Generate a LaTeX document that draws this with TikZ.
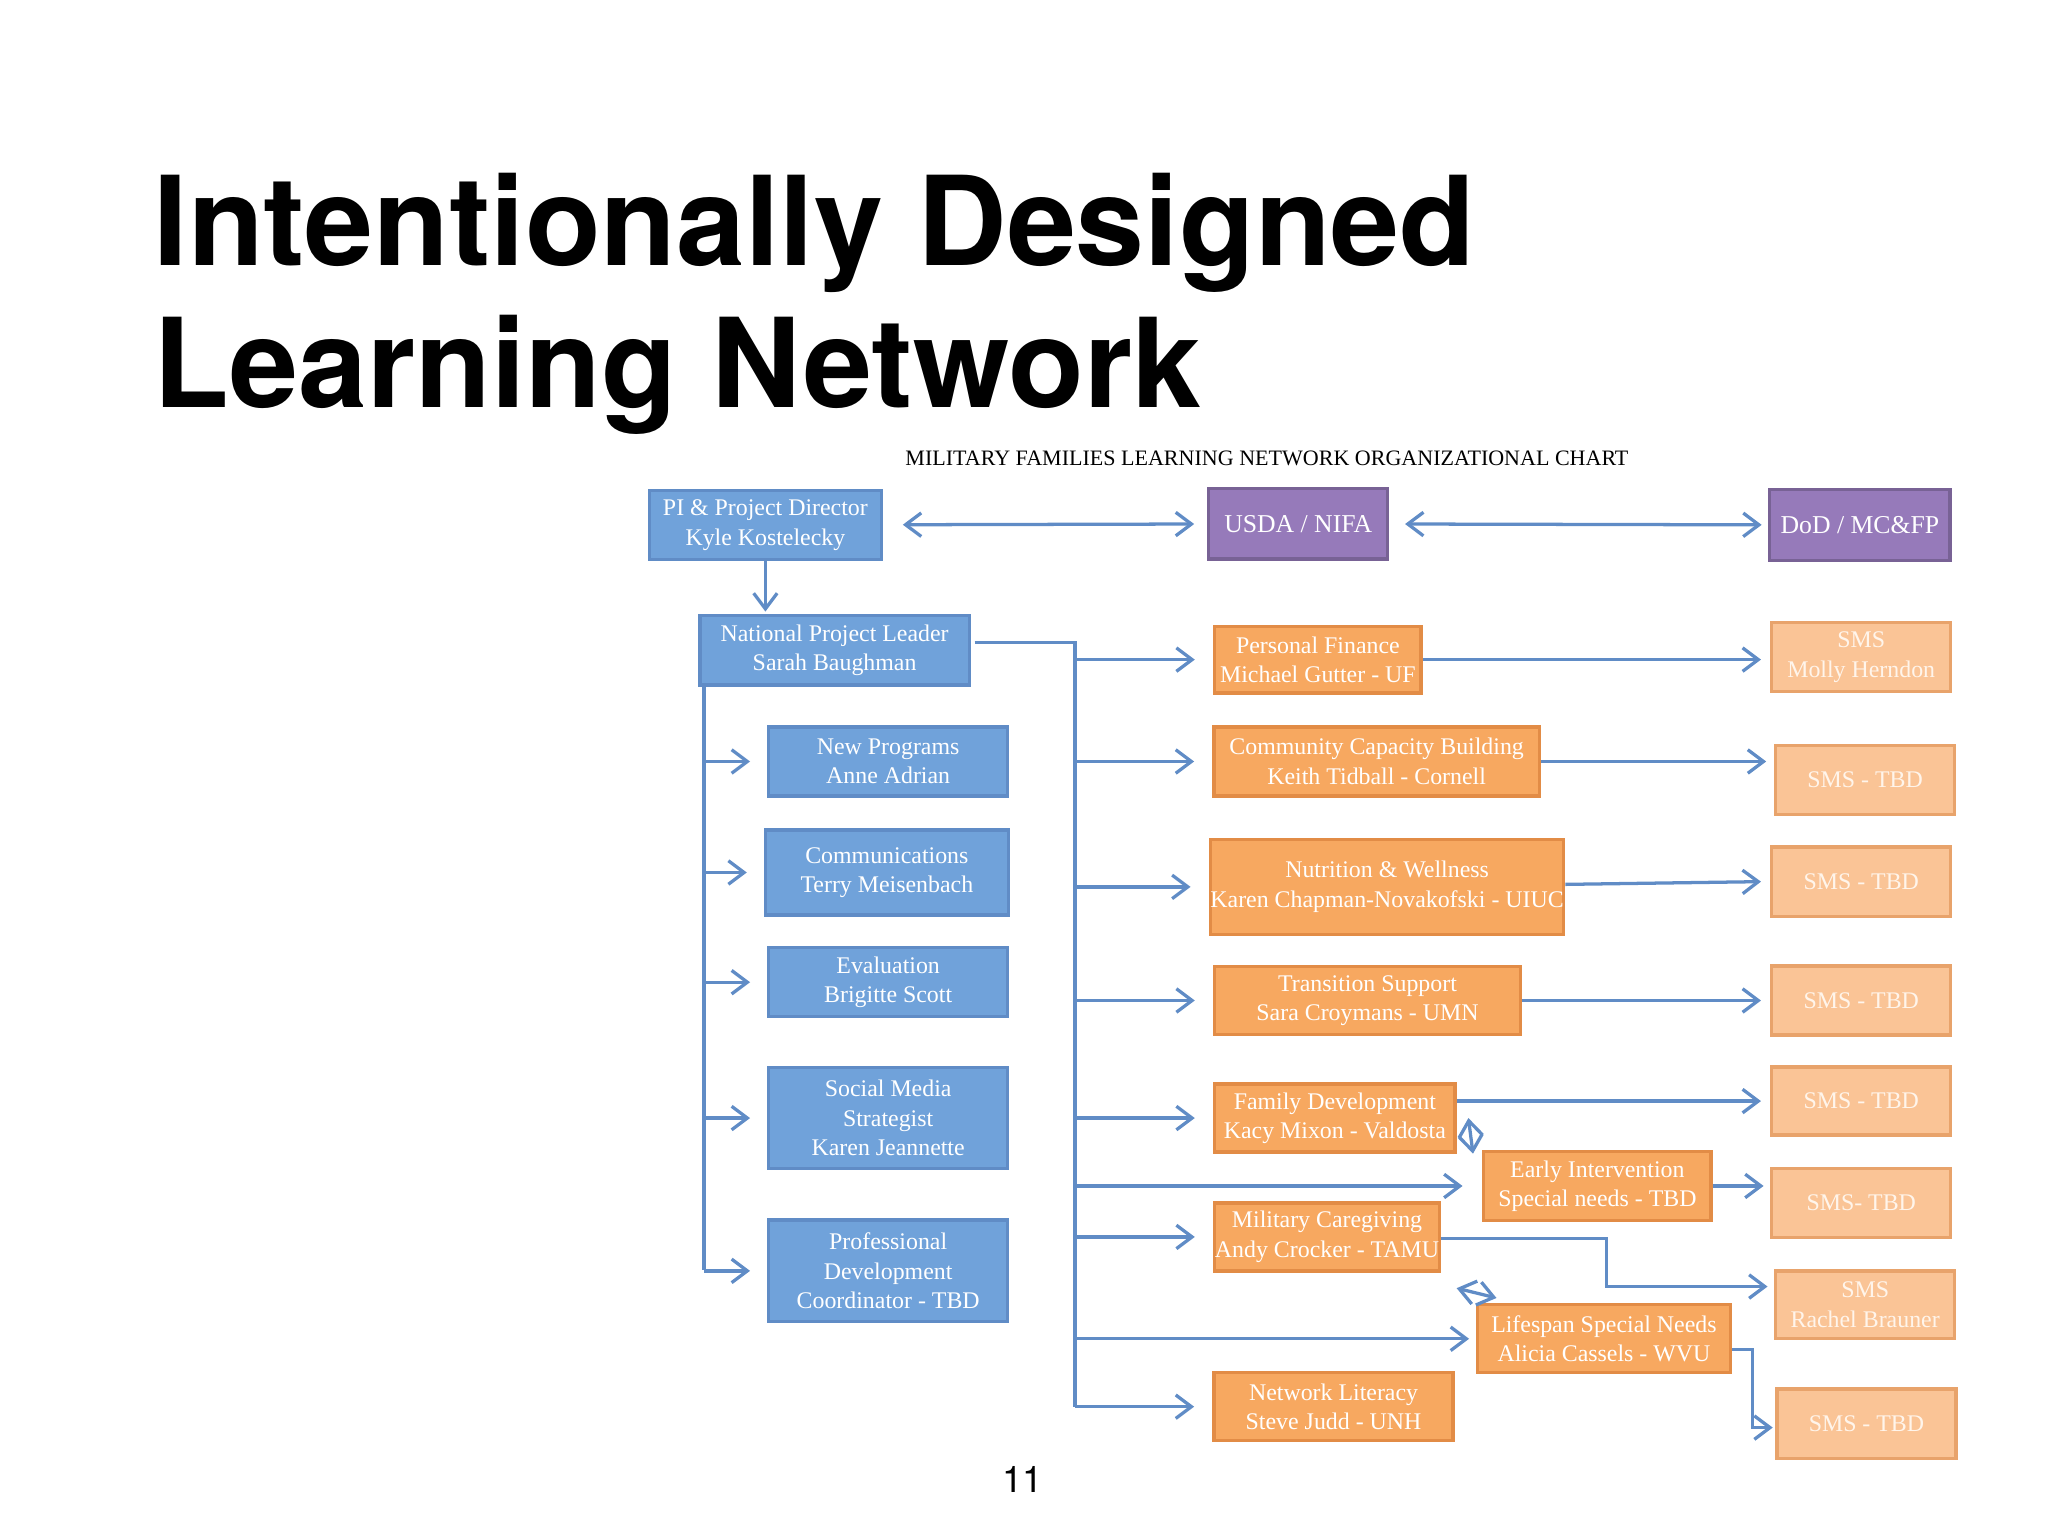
\documentclass[tikz,border=0pt]{standalone}
\usepackage{fontspec}
\setmainfont{Liberation Serif}
\newfontfamily\titlefont{TeX Gyre Heros}
\usetikzlibrary{arrows.meta, positioning}
\definecolor{bluebox}{RGB}{112,162,218}
\definecolor{blueline}{RGB}{96,140,198}
\definecolor{purplebox}{RGB}{150,122,186}
\definecolor{orangebox}{RGB}{247,168,96}
\definecolor{orangeline}{RGB}{226,140,70}
\definecolor{smsbox}{RGB}{250,196,150}
\begin{document}
\begin{tikzpicture}[x=0.1mm, y=-0.1mm,
    box/.style={draw, line width=0.25mm, align=center, inner sep=0pt, font=\fontsize{5.2}{6.4}\selectfont, text=white},
    mgmt/.style={box, fill=bluebox, draw=blueline},
    fund/.style={box, fill=purplebox, draw=purplebox!80!black, font=\fontsize{5.6}{6.6}\selectfont},
    area/.style={box, fill=orangebox, draw=orangeline},
    sms/.style={box, fill=smsbox, draw=orangeline!80, text=white!92!orange},
    link/.style={blueline, line width=0.25mm},
    arrow/.style={link, -{Straight Barb[length=1.2mm, width=1.8mm]}},
    both/.style={link, {Straight Barb[length=1.2mm, width=1.8mm]}-{Straight Barb[length=1.2mm, width=1.8mm]}}
]
    \useasboundingbox[fill=white] (0,0) rectangle (1568,1176);

    % Title
    \node[anchor=base west, font=\titlefont\bfseries\fontsize{27}{30}\selectfont, inner sep=0pt] (title1) at (117,203) {Intentionally Designed};
    \node[anchor=base west, font=\titlefont\bfseries\fontsize{27}{30}\selectfont, inner sep=0pt] (title2) at (117,312) {Learning Network};
    \node[font=\fontsize{4.8}{6}\selectfont] (chart) at (970,351) {MILITARY FAMILIES LEARNING NETWORK ORGANIZATIONAL CHART};
    \node[font=\titlefont\fontsize{8}{9}\selectfont] (page) at (783,1133) {11};

    % Top row
    \node[mgmt, minimum width=17.8mm, minimum height=5.3mm] (pi) at (586,402) {PI \& Project Director\\Kyle Kostelecky};
    \node[fund, minimum width=13.7mm, minimum height=5.4mm] (usda) at (994,401) {USDA / NIFA};
    \node[fund, minimum width=13.8mm, minimum height=5.4mm] (dod) at (1424,402) {DoD / MC\&FP};

    % Project staff
    \node[mgmt, minimum width=20.6mm, minimum height=5.3mm] (npl) at (639,498) {National Project Leader\\Sarah Baughman};
    \node[mgmt, minimum width=18.3mm, minimum height=5.3mm] (newprog) at (680,583) {New Programs\\Anne Adrian};
    \node[mgmt, minimum width=18.6mm, minimum height=6.5mm] (comm) at (679,668) {Communications\\Terry Meisenbach};
    \node[mgmt, minimum width=18.3mm, minimum height=5.3mm] (eval) at (680,752) {Evaluation\\Brigitte Scott};
    \node[mgmt, minimum width=18.3mm, minimum height=7.7mm] (social) at (680,856) {Social Media\\Strategist\\Karen Jeannette};
    \node[mgmt, minimum width=18.3mm, minimum height=7.8mm] (profdev) at (680,973) {Professional\\Development\\Coordinator - TBD};

    % Concentration areas
    \node[area, minimum width=15.8mm, minimum height=5.1mm] (finance) at (1009,505) {Personal Finance\\Michael Gutter - UF};
    \node[area, minimum width=24.9mm, minimum height=5.3mm] (capacity) at (1054,583) {Community Capacity Building\\Keith Tidball - Cornell};
    \node[area, minimum width=26mm, minimum height=7.3mm] (nutrition) at (1062,679) {Nutrition \& Wellness\\Karen Chapman-Novakofski - UIUC};
    \node[area, minimum width=23.4mm, minimum height=5.2mm] (transition) at (1047,766) {Transition Support\\Sara Croymans - UMN};
    \node[area, minimum width=18.4mm, minimum height=5.2mm] (family) at (1022,856) {Family Development\\Kacy Mixon - Valdosta};
    \node[area, minimum width=17.4mm, minimum height=5.3mm] (early) at (1223,908) {Early Intervention\\Special needs - TBD};
    \node[area, minimum width=17.2mm, minimum height=5.2mm] (caregiving) at (1016,947) {Military Caregiving\\Andy Crocker - TAMU};
    \node[area, minimum width=19.4mm, minimum height=5.2mm] (lifespan) at (1228,1025) {Lifespan Special Needs\\Alicia Cassels - WVU};
    \node[area, minimum width=18.3mm, minimum height=5.2mm] (literacy) at (1021,1077) {Network Literacy\\Steve Judd - UNH};

    % Subject matter specialists
    \node[sms, minimum width=13.7mm, minimum height=5.3mm] (sms1) at (1425,503) {SMS\\Molly Herndon};
    \node[sms, minimum width=13.7mm, minimum height=5.3mm] (sms2) at (1428,597) {SMS - TBD};
    \node[sms, minimum width=13.7mm, minimum height=5.3mm] (sms3) at (1425,675) {SMS - TBD};
    \node[sms, minimum width=13.7mm, minimum height=5.3mm] (sms4) at (1425,766) {SMS - TBD};
    \node[sms, minimum width=13.7mm, minimum height=5.2mm] (sms5) at (1425,843) {SMS - TBD};
    \node[sms, minimum width=13.7mm, minimum height=5.3mm] (sms6) at (1425,921) {SMS- TBD};
    \node[sms, minimum width=13.7mm, minimum height=5.2mm] (sms7) at (1428,999) {SMS\\Rachel Brauner};
    \node[sms, minimum width=13.7mm, minimum height=5.3mm] (sms8) at (1429,1090) {SMS - TBD};

    % Top links
    \draw[both, shorten <=1.5mm, shorten >=1mm] (pi) -- (usda);
    \draw[both, shorten <=1.2mm, shorten >=0.5mm] (usda) -- (dod);
    \draw[arrow, shorten >=0.2mm] (pi) -- (npl.north-|pi);

    % Left trunk
    \coordinate (ltop) at (539,525);
    \coordinate (lbot) at (539,972);
    \draw[link] (ltop) -- (lbot);
    \foreach \n in {newprog, comm, eval, social, profdev}
        \draw[arrow] (ltop|-\n) -- ([xshift=-1.3mm]\n.west);

    % Right trunk
    \coordinate (rtop) at (823,492);
    \coordinate (rbot) at (823,1077);
    \draw[link] ([xshift=0.3mm]npl.east|-rtop) -- (rtop) -- (rbot);
    \foreach \n in {finance, capacity, nutrition, transition, family, caregiving, literacy}
        \draw[arrow] (rtop|-\n) -- ([xshift=-1.4mm]\n.west);
    \draw[arrow] (rtop|-early) -- ([xshift=-1.5mm]early.west);
    \draw[arrow] (rtop|-lifespan) -- ([xshift=-0.5mm]lifespan.west);

    % Areas to specialists
    \draw[arrow] (finance) -- ([xshift=-0.7mm]sms1.west|-finance);
    \draw[arrow] (capacity) -- ([xshift=-0.6mm]sms2.west|-capacity);
    \draw[arrow] (nutrition) -- ([xshift=-0.7mm]sms3.west);
    \draw[arrow] (transition) -- ([xshift=-0.7mm]sms4.west);
    \draw[arrow] (family.east|-sms5) -- ([xshift=-0.7mm]sms5.west);
    \draw[arrow] (early) -- ([xshift=-0.5mm]sms6.west|-early);
    \draw[arrow] ([yshift=-0.1mm]caregiving.east) -| (1230,985) -- ([xshift=-0.5mm]sms7.west|-0,985);
    \draw[arrow] ([yshift=-0.8mm]lifespan.east) -| (1342,1093) -- ([xshift=-0.2mm]sms8.west|-0,1093);

    % Cross links
    \draw[both] ([xshift=0.9mm]family.east|-0,856) -- ([xshift=-0.7mm, yshift=-0.3mm]early.north west);
    \draw[both] ([xshift=1.2mm, yshift=-1.2mm]caregiving.south east) -- ([xshift=1.6mm, yshift=0.4mm]lifespan.north west);
\end{tikzpicture}
\end{document}
